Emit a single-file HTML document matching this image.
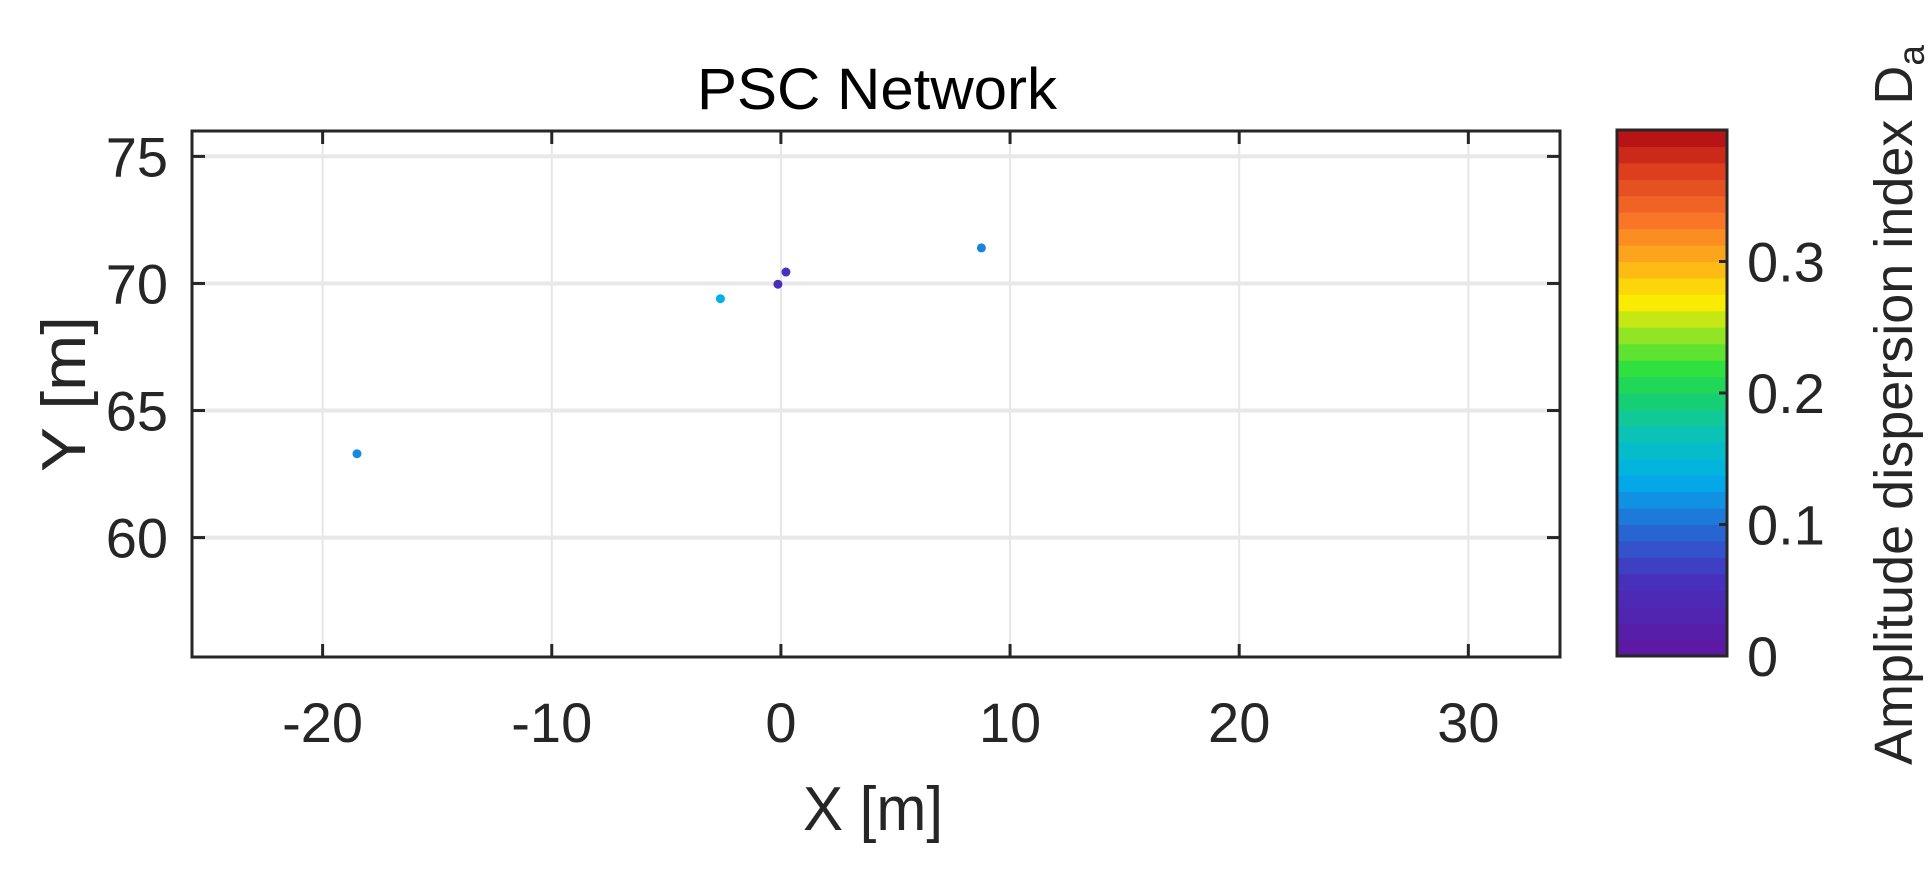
<!DOCTYPE html>
<html><head><meta charset="utf-8"><style>
html,body{margin:0;padding:0;background:#fff;}
svg{display:block;font-family:"Liberation Sans",Arial,sans-serif;}
</style></head><body>
<svg id="chart" width="1930" height="872" viewBox="0 0 1930 872" xmlns="http://www.w3.org/2000/svg">
<rect width="1930" height="872" fill="#fff"/>
<g id="grid"></g>
<g id="points"></g>
<g id="axes"></g>
<g id="cbar"></g>
<text x="877" y="109" font-size="58" text-anchor="middle" textLength="360" lengthAdjust="spacingAndGlyphs" fill="#000">PSC Network</text>
<text x="873" y="830" font-size="62" text-anchor="middle" textLength="140" lengthAdjust="spacingAndGlyphs" fill="#262626">X [m]</text>
<text transform="translate(85,394) rotate(-90)" font-size="62" text-anchor="middle" textLength="156" lengthAdjust="spacingAndGlyphs" fill="#262626">Y [m]</text>
<text transform="translate(1912,405) rotate(-90)" font-size="54" text-anchor="middle" fill="#262626">Amplitude dispersion index D<tspan font-size="37" dy="12">a</tspan></text>
</svg>
<script>
const xTicks = [-20, -10, 0, 10, 20, 30];
const yTicks = [60, 65, 70, 75];
const cTicks = [0, 0.1, 0.2, 0.3];
const cTickLabels = ["0", "0.1", "0.2", "0.3"];
const ptX = [-18.5, -2.64, -0.13, 0.22, 8.75];
const ptY = [63.3, 69.4, 69.97, 70.45, 71.4];
const ptD = [0.115, 0.135, 0.05, 0.06, 0.112];

const NS = "http://www.w3.org/2000/svg";
const L = 192, R = 1560, T = 131, B = 657;
const xMin = -25.7, xMax = 34, yMin = 55.3, yMax = 76;
const sx = v => L + (v - xMin) / (xMax - xMin) * (R - L);
const sy = v => B - (v - yMin) / (yMax - yMin) * (B - T);
const CL = 1617, CR = 1727, CT = 130, CB = 656, cMax = 0.4;
const sc = v => CB - v / cMax * (CB - CT);

const stops = [[0,[95,22,160]],[0.06,[70,50,190]],[0.1,[35,110,215]],[0.135,[0,175,235]],[0.17,[10,195,180]],[0.2,[25,210,100]],[0.22,[50,225,60]],[0.25,[170,230,30]],[0.27,[255,235,0]],[0.3,[252,175,25]],[0.33,[250,120,40]],[0.37,[220,60,30]],[0.4,[175,10,20]]];
function cmap(v){
  for(let i=0;i<stops.length-1;i++){
    const a=stops[i],b=stops[i+1];
    if(v<=b[0]){const t=(v-a[0])/(b[0]-a[0]);return "rgb("+a[1].map((c,k)=>Math.round(c+(b[1][k]-c)*t)).join(",")+")";}
  }
  return "rgb(175,10,20)";
}
function mk(tag, attrs, parent){const e=document.createElementNS(NS,tag);for(const k in attrs)e.setAttribute(k,attrs[k]);parent.appendChild(e);return e;}

const grid=document.getElementById("grid"), axes=document.getElementById("axes"), pts=document.getElementById("points"), cbar=document.getElementById("cbar");
xTicks.forEach(v=>{
  const g=mk("line",{x1:sx(v),x2:sx(v),y1:T,y2:B,stroke:"#e6e6e6","stroke-width":2},grid);
  
  
  const t1=mk("line",{x1:sx(v),x2:sx(v),y1:T,y2:T+13,stroke:"#262626","stroke-width":3},axes);
  
  
  const t2=mk("line",{x1:sx(v),x2:sx(v),y1:B,y2:B-13,stroke:"#262626","stroke-width":3},axes);
  
  
  const tx=mk("text",{x:sx(v),y:742,"font-size":56,"text-anchor":"middle",fill:"#262626"},axes);
  tx.textContent=String(v);
  
  
});
yTicks.forEach(v=>{
  const g=mk("line",{x1:L,x2:R,y1:sy(v),y2:sy(v),stroke:"#e8e8e8","stroke-width":4},grid);
  
  
  const t1=mk("line",{x1:L,x2:L+13,y1:sy(v),y2:sy(v),stroke:"#262626","stroke-width":3},axes);
  
  
  const t2=mk("line",{x1:R,x2:R-13,y1:sy(v),y2:sy(v),stroke:"#262626","stroke-width":3},axes);
  
  
  const tx=mk("text",{x:168,y:sy(v)+20,"font-size":56,"text-anchor":"end",fill:"#262626"},axes);
  tx.textContent=String(v);
  
  
});
const box=mk("rect",{x:L,y:T,width:R-L,height:B-T,fill:"none",stroke:"#262626","stroke-width":3},axes);



ptX.forEach((x,i)=>{
  const c=mk("circle",{cx:sx(x),cy:sy(ptY[i]),r:4.5,fill:cmap(ptD[i])},pts);
  
  
});

const N=32;
for(let i=0;i<N;i++){
  const v0=i*cMax/N, v1=(i+1)*cMax/N;
  const r=mk("rect",{x:CL,y:sc(v1),width:CR-CL,height:sc(v0)-sc(v1)+0.5,fill:cmap((v0+v1)/2)},cbar);
  
  
}
const cb=mk("rect",{x:CL,y:CT,width:CR-CL,height:CB-CT,fill:"none",stroke:"#262626","stroke-width":3},cbar);


cTicks.forEach((v,i)=>{
  const t=mk("line",{x1:CR,x2:CR-8,y1:sc(v),y2:sc(v),stroke:"#262626","stroke-width":3},cbar);
  
  
  const tx=mk("text",{x:1747,y:sc(v)+20,"font-size":56,fill:"#262626"},cbar);
  tx.textContent=cTickLabels[i];
  
  
});
</script>
</body></html>
